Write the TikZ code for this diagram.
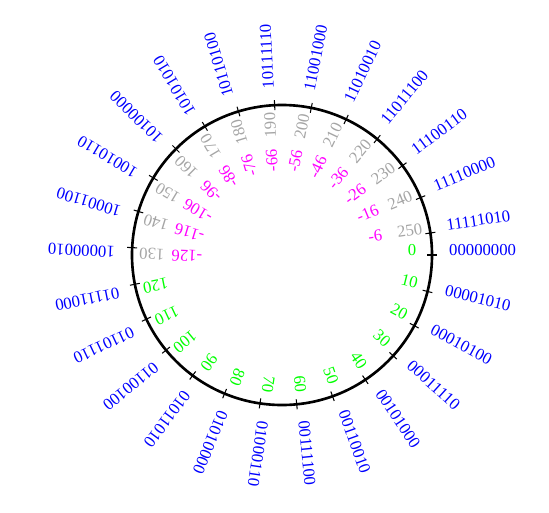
\documentclass[tikz,border=0pt]{standalone}
\usepackage{fontspec}
\setmainfont{Liberation Serif}
\usepackage{tikz}
\usetikzlibrary{positioning}

\definecolor{bincol}{RGB}{0,0,255}
\definecolor{poscol}{RGB}{0,255,0}
\definecolor{highcol}{RGB}{165,165,165}
\definecolor{negcol}{RGB}{255,0,255}

\begin{document}
\begin{tikzpicture}[
    wheel/.style={draw=black, line width=1.5pt},
    tick/.style={draw=black, line width=0.6pt},
    binlabel/.style={text=bincol, font=\fontsize{9.5}{11}\selectfont, anchor=base west},
    declabel/.style={font=\fontsize{9.5}{11}\selectfont, inner sep=1pt, anchor=base},
    neglabel/.style={text=negcol, font=\fontsize{9.5}{11}\selectfont, inner sep=1pt, anchor=base}
]
\useasboundingbox (-5.64,-5.14) rectangle (5.34,5.10);

% The number wheel
\draw[wheel] (0,0) circle (3);

% Ticks and binary codes round the outside
\foreach \v/\b in {0/00000000, 10/00001010, 20/00010100, 30/00011110, 40/00101000,
    50/00110010, 60/00111100, 70/01000110, 80/01010000, 90/01011010, 100/01100100,
    110/01101110, 120/01111000, 130/10000010, 140/10001100, 150/10010110,
    160/10100000, 170/10101010, 180/10110100, 190/10111110, 200/11001000,
    210/11010010, 220/11011100, 230/11100110, 240/11110000, 250/11111010} {
    \pgfmathsetmacro{\a}{-\v*1.40625}
    \draw[tick] (\a:2.9) -- (\a:3.1);
    \node[binlabel, rotate=\a] (b\v) at (\a:3.22) {\b};
}

% Unsigned values inside the wheel
\foreach \v in {0,10,...,120} {
    \pgfmathsetmacro{\a}{-\v*1.40625}
    \node[declabel, text=poscol, rotate=\a] (d\v) at (\a:2.6) {\v};
}
\foreach \v in {130,140,...,250} {
    \pgfmathsetmacro{\a}{-\v*1.40625}
    \node[declabel, text=highcol, rotate=\a] (d\v) at (\a:2.6) {\v};
}

% Signed values for the upper half of the codes
\foreach \v in {130,140,...,250} {
    \pgfmathsetmacro{\a}{-\v*1.40625}
    \pgfmathtruncatemacro{\s}{\v-256}
    \node[neglabel, rotate=\a] (s\v) at (\a:1.9) {\s};
}

\end{tikzpicture}
\end{document}
